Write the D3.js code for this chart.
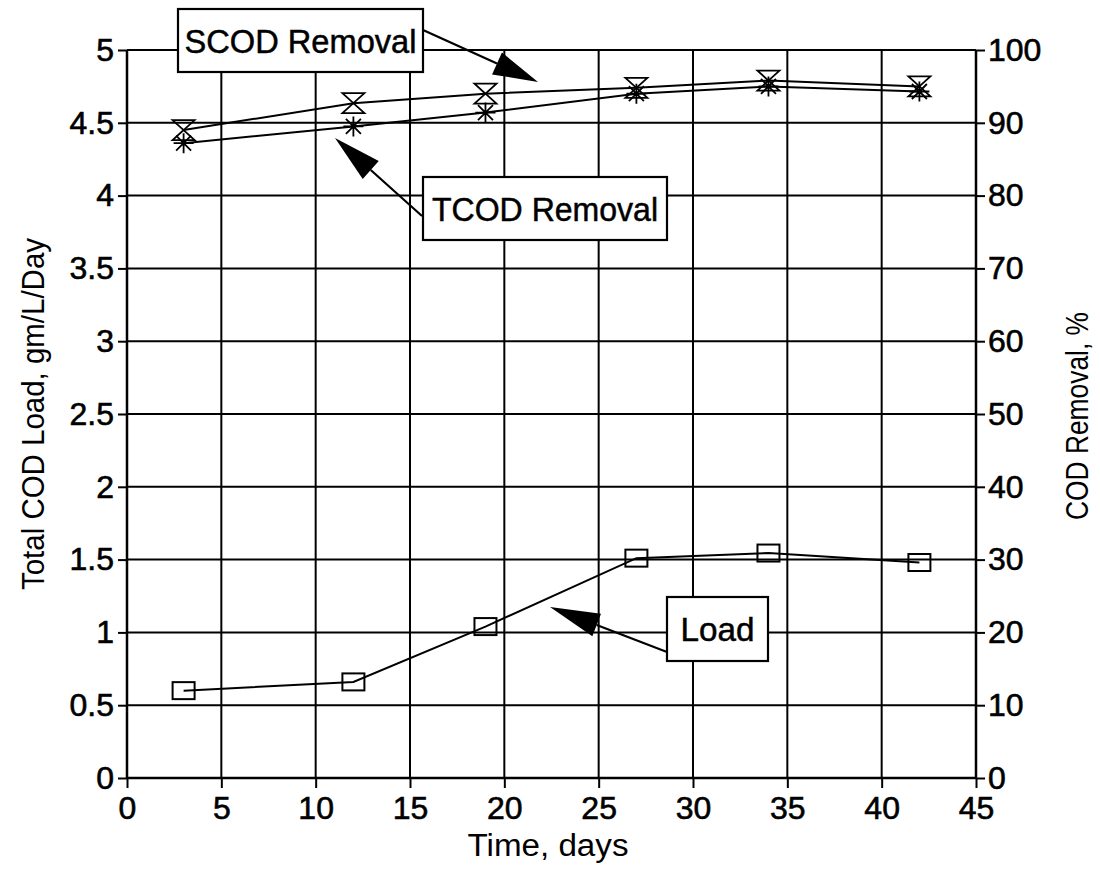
<!DOCTYPE html>
<html>
<head>
<meta charset="utf-8">
<script src="https://cdn.jsdelivr.net/npm/d3@7"></script>
<style>
  html, body { margin: 0; padding: 0; background: #fff; }
  svg { display: block; }
  text { font-family: "Liberation Sans", Arial, Helvetica, sans-serif; fill: #000; }
</style>
</head>
<body>
<svg id="chart" width="1100" height="869"></svg>
<script>
// ---- data ----
const days = [3, 12, 19, 27, 34, 42];
const load = [0.60, 0.66, 1.04, 1.51, 1.545, 1.48];
const scodRemoval = [89.0, 92.7, 94.0, 94.8, 95.8, 95.0];
const tcodRemoval = [87.2, 89.5, 91.4, 94.0, 95.0, 94.3];
const xTicks = [0, 5, 10, 15, 20, 25, 30, 35, 40, 45];
const yLeftTicks = [0, 0.5, 1, 1.5, 2, 2.5, 3, 3.5, 4, 4.5, 5];
const yRightTicks = [0, 10, 20, 30, 40, 50, 60, 70, 80, 90, 100];

const svg = d3.select("#chart");
const X0 = 127, X1 = 976, YT = 50, YB = 778;
const x = d3.scaleLinear().domain([0, 45]).range([X0, X1]);
const yL = d3.scaleLinear().domain([0, 5]).range([YB, YT]);
const yR = d3.scaleLinear().domain([0, 100]).range([YB, YT]);

// grid
const grid = svg.append("g").attr("stroke", "#000").attr("stroke-width", 2);
grid.selectAll("line.v").data(xTicks.slice(1, -1)).join("line")
  .attr("x1", d => x(d)).attr("x2", d => x(d)).attr("y1", YT).attr("y2", YB);
grid.selectAll("line.h").data(yLeftTicks.slice(1, -1)).join("line")
  .attr("class", "h")
  .attr("x1", X0).attr("x2", X1).attr("y1", d => yL(d)).attr("y2", d => yL(d));
grid.append("line").attr("x1", X0).attr("x2", X1).attr("y1", YT).attr("y2", YT);

// axes
const fs = 32;
const axB = svg.append("g").attr("transform", `translate(0,${YB})`)
  .call(d3.axisBottom(x).tickValues(xTicks).tickSize(10).tickPadding(9).tickFormat(d3.format("d")));
const axL = svg.append("g").attr("transform", `translate(${X0},0)`)
  .call(d3.axisLeft(yL).tickValues(yLeftTicks).tickSize(9).tickPadding(4).tickFormat(d => String(d)));
const axR = svg.append("g").attr("transform", `translate(${X1},0)`)
  .call(d3.axisRight(yR).tickValues(yRightTicks).tickSize(9).tickPadding(3).tickFormat(d3.format("d")));
[axB, axL, axR].forEach(a => {
  a.attr("font-size", fs).attr("font-family", "Liberation Sans, Arial, sans-serif");
  a.select(".domain").attr("stroke", "#000").attr("stroke-width", 2.5);
  a.selectAll(".tick line").attr("stroke", "#000").attr("stroke-width", 2);
  a.selectAll(".tick text").attr("font-size", fs).attr("fill", "#000")
    .attr("stroke", "#000").attr("stroke-width", 0.6);
});
axB.selectAll(".domain").attr("d", `M${X0},0H${X1}`);
axL.selectAll(".domain").attr("d", `M0,${YB}V${YT}`);
axR.selectAll(".domain").attr("d", `M0,${YB}V${YT}`);
axB.selectAll(".tick text").attr("dy", "0.7em");

// lines
const lineL = d3.line().x((d, i) => x(days[i])).y(d => yL(d));
const lineR = d3.line().x((d, i) => x(days[i])).y(d => yR(d));
svg.append("path").datum(load).attr("d", lineL).attr("fill", "none").attr("stroke", "#000").attr("stroke-width", 2);
svg.append("path").datum(scodRemoval).attr("d", lineR).attr("fill", "none").attr("stroke", "#000").attr("stroke-width", 2);
svg.append("path").datum(tcodRemoval).attr("d", lineR).attr("fill", "none").attr("stroke", "#000").attr("stroke-width", 2);

// markers: squares for load
svg.append("g").selectAll("rect").data(load).join("rect")
  .attr("x", (d, i) => x(days[i]) - 11).attr("y", d => yL(d) - 8.5)
  .attr("width", 22).attr("height", 17)
  .attr("fill", "none").attr("stroke", "#000").attr("stroke-width", 2);

// hourglass for SCOD
const hg = (cx, cy) => {
  const w = 11, h = 10;
  return `M${cx - w},${cy - h}L${cx + w},${cy - h}L${cx},${cy}Z M${cx},${cy}L${cx + w},${cy + h}L${cx - w},${cy + h}Z`;
};
svg.append("g").selectAll("path").data(scodRemoval).join("path")
  .attr("d", (d, i) => hg(x(days[i]), yR(d)))
  .attr("fill", "none").attr("stroke", "#000").attr("stroke-width", 1.8).attr("stroke-linejoin", "miter");

// asterisks for TCOD
const ast = (cx, cy) => {
  const r = 10, r2 = 7.5;
  return `M${cx - r},${cy}H${cx + r} M${cx},${cy - r}V${cy + r} M${cx - r2},${cy - r2}L${cx + r2},${cy + r2} M${cx - r2},${cy + r2}L${cx + r2},${cy - r2}`;
};
svg.append("g").selectAll("path").data(tcodRemoval).join("path")
  .attr("d", (d, i) => ast(x(days[i]), yR(d)))
  .attr("fill", "none").attr("stroke", "#000").attr("stroke-width", 1.8);

// annotations
function arrow(x1, y1, tx, ty, len, halfW) {
  const ang = Math.atan2(ty - y1, tx - x1);
  const bx = tx - len * Math.cos(ang), by = ty - len * Math.sin(ang);
  const px = -Math.sin(ang) * halfW, py = Math.cos(ang) * halfW;
  svg.append("line").attr("x1", x1).attr("y1", y1).attr("x2", bx).attr("y2", by)
    .attr("stroke", "#000").attr("stroke-width", 2.2);
  svg.append("path").attr("d", `M${tx},${ty}L${bx + px},${by + py}L${bx - px},${by - py}Z`).attr("fill", "#000");
}
function box(x0, y0, w, h, label, tl) {
  svg.append("rect").attr("x", x0).attr("y", y0).attr("width", w).attr("height", h)
    .attr("fill", "#fff").attr("stroke", "#000").attr("stroke-width", 2.2);
  svg.append("text").attr("x", x0 + w / 2).attr("y", y0 + h / 2 + 12)
    .attr("text-anchor", "middle").attr("font-size", 33)
    .attr("stroke", "#000").attr("stroke-width", 0.5)
    .attr("textLength", tl).attr("lengthAdjust", "spacingAndGlyphs").text(label);
}
arrow(423, 30, 538, 82, 45, 12);
arrow(422, 216, 335, 138, 48, 12);
arrow(667, 652, 550, 607, 50, 12);
box(178, 9, 245, 63, "SCOD Removal", 232);
box(423, 177, 244, 63, "TCOD Removal", 226);
box(667, 597, 101, 64, "Load", 74);

// axis titles
svg.append("text").attr("x", 548).attr("y", 856).attr("text-anchor", "middle")
  .attr("font-size", 31).attr("textLength", 161).attr("lengthAdjust", "spacingAndGlyphs").text("Time, days");
svg.append("text").attr("transform", "translate(44,414) rotate(-90)").attr("text-anchor", "middle")
  .attr("font-size", 32).attr("textLength", 352).attr("lengthAdjust", "spacingAndGlyphs").text("Total COD Load, gm/L/Day");
svg.append("text").attr("transform", "translate(1088,416) rotate(-90)").attr("text-anchor", "middle")
  .attr("font-size", 32).attr("textLength", 208).attr("lengthAdjust", "spacingAndGlyphs").text("COD Removal, %");
</script>
</body>
</html>
